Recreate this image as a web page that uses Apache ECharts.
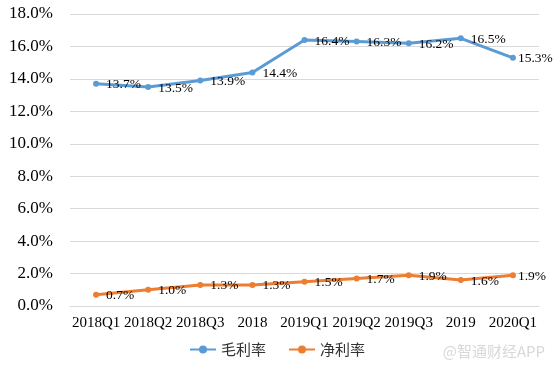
<!DOCTYPE html>
<html><head><meta charset="utf-8">
<script src="https://cdn.jsdelivr.net/npm/echarts@6/dist/echarts.min.js"></script>
<style>html,body{margin:0;padding:0;background:#fff}#c{width:554px;height:368px}</style>
</head><body><div id="c"></div>
<script>
const categories = ['2018Q1','2018Q2','2018Q3','2018','2019Q1','2019Q2','2019Q3','2019','2020Q1'];
const grossMargin = [13.7, 13.5, 13.9, 14.4, 16.4, 16.3, 16.2, 16.5, 15.3];
const netMargin = [0.7, 1.0, 1.3, 1.3, 1.5, 1.7, 1.9, 1.6, 1.9];
const seriesNames = ['毛利率', '净利率'];

const serif = '"Liberation Serif", "Times New Roman", serif';
const chart = echarts.init(document.getElementById('c'));
function mkSeries(name, data, color) {
  const last = data.length - 1;
  return {
    name, type: 'line',
    data: data.map((v, i) => i === last ? { value: v, label: { distance: 2 } } : v),
    symbol: 'circle', symbolSize: 6,
    lineStyle: { width: 3, color },
    itemStyle: { color },
    label: {
      show: true, position: 'right', distance: 7, offset: [0, 1],
      formatter: p => p.value.toFixed(1) + '%',
      fontFamily: serif, fontSize: 13.5, color: '#000'
    }
  };
}
chart.setOption({
  animation: false,
  grid: { left: 70, right: 15, top: 14, bottom: 62 },
  legend: {
    bottom: 6, left: 'center', itemWidth: 26, itemHeight: 10, itemGap: 22,
    textStyle: { fontFamily: '"Noto Sans CJK SC", sans-serif', fontSize: 15, color: '#333' },
    data: seriesNames
  },
  xAxis: {
    type: 'category', data: categories, boundaryGap: true,
    axisLine: { lineStyle: { color: '#d9d9d9' } },
    axisTick: { show: false },
    axisLabel: { fontFamily: serif, fontSize: 15, color: '#000', margin: 10, interval: 0 }
  },
  yAxis: {
    type: 'value', min: 0, max: 18, interval: 2,
    axisLabel: { fontFamily: serif, fontSize: 17, color: '#000', margin: 17, formatter: v => v.toFixed(1) + '%' },
    splitLine: { lineStyle: { color: '#d9d9d9' } },
    axisLine: { show: false }, axisTick: { show: false }
  },
  graphic: [{
    type: 'text', right: 9, bottom: 9,
    style: { text: '@智通财经APP', fill: '#d8d8d8', fontSize: 15, fontFamily: '"Noto Sans CJK SC", sans-serif' }
  }],
  series: [
    mkSeries(seriesNames[0], grossMargin, '#5B9BD5'),
    mkSeries(seriesNames[1], netMargin, '#ED7D31')
  ]
});
</script></body></html>
